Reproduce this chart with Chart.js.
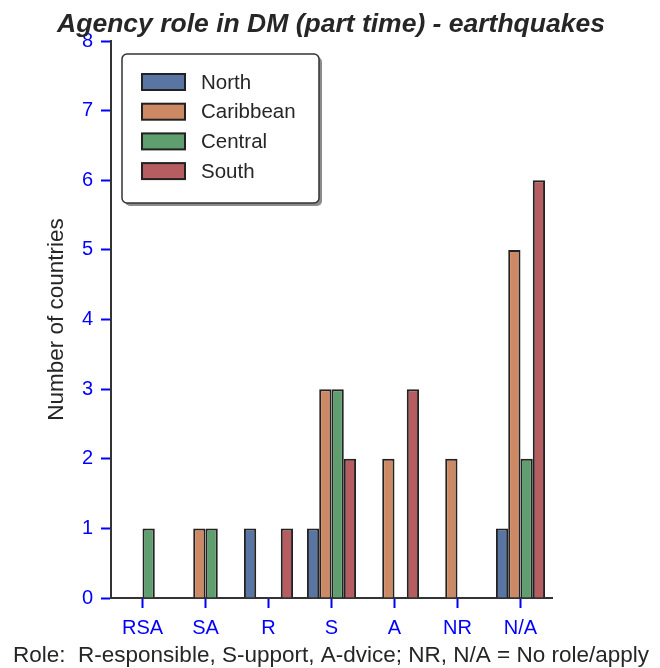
<!DOCTYPE html>
<html>
<head>
<meta charset="utf-8">
<script src="https://cdn.jsdelivr.net/npm/chart.js@4.4.0/dist/chart.umd.min.js"></script>
<style>
  html, body { margin: 0; padding: 0; background: #fff; }
  #wrap { width: 660px; height: 668px; }
</style>
</head>
<body>
<div id="wrap"><canvas id="chart"></canvas></div>
<script>
// data
const roles = ['RSA', 'SA', 'R', 'S', 'A', 'NR', 'N/A'];
const north = [0, 0, 1, 1, 0, 0, 1];
const caribbean = [0, 1, 0, 3, 2, 2, 5];
const central = [1, 1, 0, 3, 0, 0, 2];
const south = [0, 0, 1, 2, 3, 0, 6];
const regions = ['North', 'Caribbean', 'Central', 'South'];
const colors = ['#5975a4', '#cc8963', '#5f9e6e', '#b55d60'];

const titleText = 'Agency role in DM (part time) - earthquakes';
const xTitleText = 'Role:  R-esponsible, S-upport, A-dvice; NR, N/A = No role/apply';

const FONT = "'Liberation Sans', Arial, sans-serif";
const DARK = '#262626';

// titles are centred on the whole figure (not the axes), so draw them here
const figText = {
  id: 'figText',
  afterDraw(chart) {
    const ctx = chart.ctx;
    ctx.save();
    ctx.fillStyle = DARK;
    ctx.textAlign = 'center';
    ctx.textBaseline = 'middle';
    ctx.font = 'italic bold 26.5px ' + FONT;
    ctx.fillText(titleText, 331, 25);
    ctx.font = '22.5px ' + FONT;
    ctx.fillText(xTitleText, 331, 656);
    ctx.restore();
  }
};

// legend drawn as a framed box with a drop shadow, like the original
const boxLegend = {
  id: 'boxLegend',
  afterDraw(chart) {
    const ctx = chart.ctx;
    const x = 122, y = 54, w = 197, h = 149, r = 5;
    const rr = (px, py) => {
      ctx.beginPath();
      ctx.roundRect(px, py, w, h, r);
    };
    ctx.save();
    ctx.fillStyle = 'rgba(0,0,0,0.45)';
    rr(x + 3, y + 3);
    ctx.fill();
    ctx.fillStyle = '#fff';
    ctx.strokeStyle = '#333';
    ctx.lineWidth = 1.5;
    rr(x, y);
    ctx.fill();
    ctx.stroke();

    ctx.font = '20.5px ' + FONT;
    ctx.textBaseline = 'middle';
    chart.data.datasets.forEach((ds, i) => {
      const cy = 82 + i * 29.7;
      ctx.fillStyle = ds.backgroundColor;
      ctx.fillRect(142, cy - 8, 43, 16);
      ctx.strokeStyle = '#222';
      ctx.lineWidth = 2;
      ctx.strokeRect(142, cy - 8, 43, 16);
      ctx.fillStyle = DARK;
      ctx.fillText(ds.label, 201, cy + 1);
    });
    ctx.restore();
  }
};

const series = [north, caribbean, central, south];

new Chart(document.getElementById('chart'), {
  type: 'bar',
  data: {
    labels: roles,
    datasets: series.map((vals, i) => ({
      label: regions[i],
      data: vals,
      backgroundColor: colors[i],
      borderColor: '#222',
      borderWidth: 2,
      categoryPercentage: 0.78,
      barPercentage: 1
    }))
  },
  options: {
    responsive: true,
    maintainAspectRatio: false,
    animation: false,
    layout: { padding: { left: 0, right: 108, top: 41, bottom: 0 } },
    plugins: {
      legend: { display: false },
      tooltip: { enabled: false },
      title: { display: false }
    },
    scales: {
      x: {
        grid: {
          display: true,
          drawOnChartArea: false,
          offset: false,
          tickColor: 'blue',
          tickLength: 10,
          tickWidth: 2
        },
        border: { color: '#333', width: 2 },
        ticks: {
          color: 'blue',
          padding: 8,
          font: { family: FONT, size: 20 }
        },
        afterFit(scale) {
          scale.height = 70;
          scale.paddingLeft = 0;
          scale.paddingRight = 0;
        }
      },
      y: {
        min: 0,
        max: 8,
        grid: {
          display: true,
          drawOnChartArea: false,
          tickColor: 'blue',
          tickLength: 10,
          tickWidth: 2
        },
        border: { color: '#333', width: 2 },
        ticks: {
          stepSize: 1,
          color: 'blue',
          padding: 8,
          font: { family: FONT, size: 20 }
        },
        title: {
          display: true,
          text: 'Number of countries',
          color: DARK,
          font: { family: FONT, size: 22.5 },
          padding: { top: 43, bottom: 0 }
        },
        afterFit(scale) {
          scale.width = 111;
          scale.paddingTop = 0;
          scale.paddingBottom = 0;
        }
      }
    }
  },
  plugins: [boxLegend, figText]
});
</script>
</body>
</html>
